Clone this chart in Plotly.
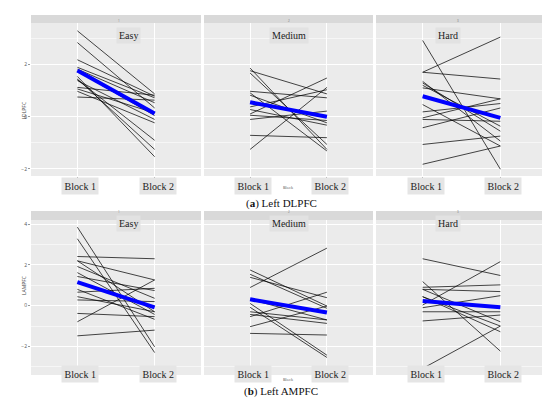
import plotly.graph_objects as go

# values (block 1 -> block 2 for each subject)
easyDL_b1 = [3.3, 2.85, 2.19, 1.9, 1.83, 1.45, 1.43, 1.39, 1.13, 1.07, 0.98, 0.76, 1.55, 1.75]
easyDL_b2 = [0.88, 0.34, 0.79, 0.73, 0.54, -1.25, -0.9, -0.1, 0.83, 0.15, -0.23, 0.64, -1.53, 0.05]
mediumDL_b1 = [1.87, 1.77, 1.68, 0.98, 0.92, 0.83, 0.38, 0.11, 0.06, -0.1, -0.71, -1.25, 0.28]
mediumDL_b2 = [-1.25, 0.88, -1.06, 0.73, -1.31, -0.23, 1.04, 1.49, -0.14, 0.22, -0.8, 1.13, -0.32]
hardDL_b1 = [2.93, 1.71, 1.71, 1.36, 1.3, 1.21, 1.11, 0.47, 0.19, -0.04, -0.1, -0.42, -1.06, -1.82]
hardDL_b2 = [-2.01, 3.06, 1.45, -0.93, -0.55, -0.36, 0.69, -1.12, 0.51, 0.69, -0.17, 0.34, -0.74, -1.12]

easyAM_b1 = [3.85, 3.28, 2.41, 2.2, 1.92, 1.62, 1.43, 0.8, 0.66, 0.44, 0.28, -0.38, -0.79, -1.48, 2.2]
easyAM_b2 = [-2.02, -2.3, 2.3, 1.26, 0.36, -0.43, 0.74, -0.67, 0.85, -0.3, 0.2, -0.54, 1.26, -1.2, -0.3]
mediumAM_b1 = [1.75, 1.54, 1.39, 0.89, 0.11, -0.08, -0.3, -0.43, -0.54, -1.03, -1.36, 0.31]
mediumAM_b2 = [-0.02, -0.13, 0.39, 2.82, -2.43, -2.54, -0.7, -0.87, 0.66, -0.02, -1.44, -0.7]
hardAM_b1 = [2.3, 1.18, 0.9, 0.8, 0.44, 0.03, -0.1, -0.3, -0.75, -3.08, 0.8, 0.44]
hardAM_b2 = [1.48, -2.23, 1.02, -0.79, -1.28, 2.16, 0.49, -0.3, -0.46, -1.0, 0.69, -1.0]

meanDL_b1 = [1.78, 0.56, 0.79]
meanDL_b2 = [0.13, 0.0, -0.04]
meanAM_b1 = [1.15, 0.31, 0.23]
meanAM_b2 = [-0.08, -0.34, -0.08]

difficulties = ["Easy", "Medium", "Hard"]
blocks = ["Block 1", "Block 2"]
captions = ["(<b>a</b>) Left DLPFC", "(<b>b</b>) Left AMPFC"]
yTitles = ["LDLPFC", "LAMPFC"]

rows = [
    [(easyDL_b1, easyDL_b2), (mediumDL_b1, mediumDL_b2), (hardDL_b1, hardDL_b2)],
    [(easyAM_b1, easyAM_b2), (mediumAM_b1, mediumAM_b2), (hardAM_b1, hardAM_b2)],
]
means = [(meanDL_b1, meanDL_b2), (meanAM_b1, meanAM_b2)]

W, H = 550, 403
colPx = [(23, 193), (196, 365), (368, 539)]
rowPx = [(15, 168), (212, 367)]        # plot area top/bottom in px
stripPx = [(7, 15), (203, 212)]
labelY = [19, 216]                     # centre of facet label boxes
blockY = [178, 375]
captionY = [195, 392]
yRanges = [[-2.27, 3.6], [-3.4, 4.2]]
yTicks = [[-2, 0, 2], [-2, 0, 2, 4]]

serif = "Liberation Serif"

fig = go.Figure()
annotations = []
shapes = []

for r in range(2):
    for c in range(3):
        n = r * 3 + c + 1
        xa = "x" if n == 1 else "x%d" % n
        ya = "y" if n == 1 else "y%d" % n
        b1, b2 = rows[r][c]
        xs, ys = [], []
        for a, b in zip(b1, b2):
            xs += [1, 2, None]
            ys += [a, b, None]
        fig.add_trace(go.Scatter(x=xs, y=ys, mode="lines", xaxis=xa, yaxis=ya,
                                 line=dict(color="rgba(0,0,0,0.72)", width=1),
                                 showlegend=False, hoverinfo="skip"))
        fig.add_trace(go.Scatter(x=[1, 2], y=[means[r][0][c], means[r][1][c]], mode="lines",
                                 xaxis=xa, yaxis=ya, line=dict(color="#0000ff", width=4),
                                 showlegend=False))

        x0, x1 = colPx[c][0] / W, colPx[c][1] / W
        top, bot = rowPx[r]
        fig.layout["xaxis" if n == 1 else "xaxis%d" % n] = dict(
            domain=[x0, x1], anchor=ya, range=[0.4, 2.6], tickvals=[1, 2],
            showticklabels=False, showgrid=True, gridcolor="white", gridwidth=1,
            zeroline=False, ticks="outside", ticklen=2, tickcolor="#999", fixedrange=True)
        yax = dict(
            domain=[1 - bot / H, 1 - top / H], anchor=xa, range=yRanges[r],
            tickvals=yTicks[r], showgrid=True, gridcolor="white", gridwidth=1,
            zeroline=False, showticklabels=(c == 0), ticks="outside" if c == 0 else "",
            ticklen=2, tickcolor="#999", tickfont=dict(size=5, color="#555"),
            minor=dict(dtick=1, showgrid=True, gridcolor="#f6f6f6", gridwidth=0.5),
            fixedrange=True)
        fig.layout["yaxis" if n == 1 else "yaxis%d" % n] = yax

        # facet strip
        s0, s1 = stripPx[r]
        shapes.append(dict(type="rect", xref="paper", yref="paper", x0=x0, x1=x1,
                           y0=1 - s1 / H, y1=1 - s0 / H, fillcolor="#d9d9d9", line_width=0,
                           layer="above"))
        annotations.append(dict(text=str(c + 1), x=(x0 + x1) / 2, y=1 - (s0 + 1.5) / H,
                                xref="paper", yref="paper", showarrow=False,
                                font=dict(size=3, color="#777")))
        annotations.append(dict(text=difficulties[c], x=(x0 + x1) / 2, y=1 - labelY[r] / H,
                                xref="paper", yref="paper", showarrow=False,
                                bgcolor="#e2e2e2", borderpad=2,
                                font=dict(family=serif, size=10, color="#222")))
        for i, lab in enumerate(blocks):
            annotations.append(dict(text=lab, x=i + 1, y=1 - blockY[r] / H, xref=xa,
                                    yref="paper", showarrow=False, xshift=3,
                                    bgcolor="#e5e5e5", borderpad=2.5,
                                    font=dict(family=serif, size=10, color="#222")))

    annotations.append(dict(text="Block", x=(colPx[1][0] + colPx[1][1]) / 2 / W,
                            y=1 - (blockY[r] + 1) / H, xref="paper", yref="paper",
                            showarrow=False, font=dict(size=4, color="#555")))
    annotations.append(dict(text=yTitles[r], x=11 / W, y=1 - (rowPx[r][0] + rowPx[r][1]) / 2 / H,
                            xref="paper", yref="paper", showarrow=False, textangle=-90,
                            font=dict(size=5, color="#444")))
    annotations.append(dict(text=captions[r], x=273 / W, y=1 - captionY[r] / H,
                            xref="paper", yref="paper", showarrow=False,
                            font=dict(family=serif, size=11, color="#111")))

fig.update_layout(width=W, height=H, margin=dict(l=0, r=0, t=0, b=0),
                  paper_bgcolor="white", plot_bgcolor="#ebebeb",
                  annotations=annotations, shapes=shapes)

fig.write_html("out.html")
